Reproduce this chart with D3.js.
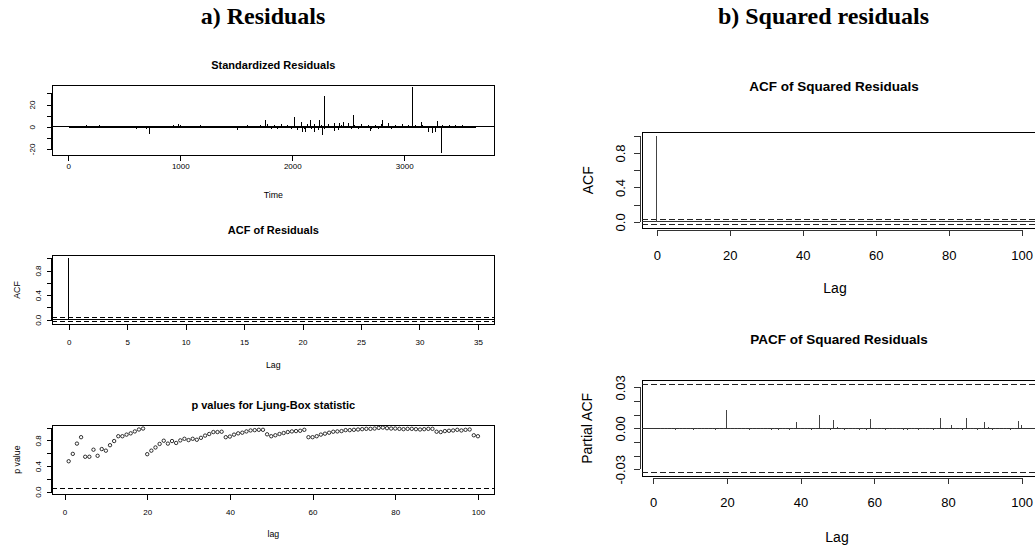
<!DOCTYPE html>
<html><head><meta charset="utf-8">
<script src="https://cdn.jsdelivr.net/npm/d3@7"></script>
<style>
body{margin:0;background:#fff;}
svg{display:block;}
svg line, svg rect{shape-rendering:crispEdges;}
</style></head><body>
<svg id="chart" width="1035" height="547"></svg>
<script>
// ---------------- DATA ----------------
// Standardized residuals: small-amplitude background, sampled every 30 time steps from t=10
const residBaseStart = 10, residBaseStep = 30;
const residBase = [
 -0.8, 0.6, -1.2, 0.9, -0.5, 1.1, -1.4, 0.7, -0.9, 1.2,
 -0.6, 0.8, -1.1, 0.5, -1.3, 0.9, -0.7, 1.0, -1.5, 0.6,
 -1.8, 0.8, -1.0, -2.0, 0.7, -0.9, 0.5, 0.9, -0.6, 1.0,
 -0.8, 1.4, -0.9, 1.2, -0.7, 0.6, -1.0, 0.8, -1.2, 1.1,
 -0.6, 0.9, -1.0, 0.7, -0.8, 0.5, -1.3, 0.6, -0.7, 1.0,
 -0.9, 0.8, -0.5, 1.1, -0.8, 0.6, -0.9,
 1.5, -1.2, 2.0, -2.2, 1.3, -1.8, 2.5, -1.5, 1.8, -2.0,
 2.6, -3.0, 1.6, -2.5, 2.2, -1.8, 2.8, -3.2, 1.5, -2.0,
 2.4, -1.6, 3.0, -2.8, 1.8, -1.5, 2.0, -2.2, 1.4, -1.8,
 2.6, -1.3, 1.9, -2.4, 1.5, -1.7, 2.1, -1.2, 1.6, -1.9,
 1.4, -1.1, 2.0, -1.6, 1.3, -1.5, 1.8, -1.2, 1.5, -1.4,
 -4.5, -6.0, -5.0, -1.2, 1.8, -1.0, 1.3, -1.5, 1.1, -0.9,
 1.2, -1.0, 0.8, -0.7, 0.9
];
// Standardized residuals: the visible large spikes
const residSpikeTime  = [727, 982, 1509, 1762, 2024, 2078, 2092, 2120, 2161, 2195, 2241, 2268, 2286, 2381, 2426, 2455, 2506, 2548, 2696, 2807, 2860, 3071, 3150, 3298, 3334];
const residSpikeValue = [-6.8, 2.0, -3.3, 6.0, 9.0, 4.3, -5.2, -4.6, 5.8, -5.0, 5.8, -7.4, 27.4, -4.0, 3.7, 3.8, 3.7, 10.8, -4.0, 5.8, 3.0, 35.5, 4.0, 5.2, -23.6];

// ACF of residuals, lags 0..35
const acfResLags = d3.range(0, 36);
const acfRes = [1, 0.004, -0.003, 0.002, -0.004, 0.003, -0.002, 0.001, -0.003, 0.002,
 0.004, -0.002, 0.003, -0.005, 0.006, -0.002, 0.002, -0.003, 0.001, 0.004,
 -0.006, 0.002, -0.003, 0.004, 0.002, 0.005, -0.002, 0.003, -0.004, 0.002,
 0.001, 0.004, -0.002, 0.003, 0.002, -0.003];
const acfResClim = 0.033;

// Ljung-Box p values, lags 1..100
const lbLags = d3.range(1, 101);
const lbP = [
 0.475, 0.59, 0.75, 0.85, 0.545, 0.545, 0.655, 0.56, 0.665, 0.64,
 0.725, 0.79, 0.865, 0.865, 0.89, 0.91, 0.94, 0.97, 0.985, 0.585,
 0.64, 0.69, 0.745, 0.795, 0.75, 0.79, 0.76, 0.80, 0.825, 0.805,
 0.825, 0.81, 0.84, 0.875, 0.90, 0.93, 0.93, 0.935, 0.85, 0.86,
 0.89, 0.91, 0.92, 0.94, 0.955, 0.96, 0.965, 0.965, 0.895, 0.865,
 0.88, 0.90, 0.915, 0.93, 0.94, 0.945, 0.95, 0.965, 0.85, 0.85,
 0.865, 0.89, 0.905, 0.92, 0.935, 0.94, 0.945, 0.96, 0.96, 0.965,
 0.97, 0.975, 0.98, 0.98, 0.985, 0.995, 1.0, 0.99, 0.985, 0.985,
 0.98, 0.975, 0.98, 0.98, 0.975, 0.97, 0.975, 0.98, 0.98, 0.935,
 0.93, 0.945, 0.95, 0.955, 0.965, 0.955, 0.965, 0.97, 0.88, 0.865
];
const lbLevel = 0.05;

// ACF of squared residuals, lags 0..100
const acfSqLags = d3.range(0, 101);
const acfSq = [1,
 0.0002,-0.0005,-0.0004,-0.0006,-0.0003,-0.0006,-0.0005,-0.0004,-0.0005,-0.0006,
 -0.0006,-0.0004,-0.0005,-0.0004,-0.0006,-0.0005,-0.0006,-0.0005,-0.0004,0.0136,
 -0.0002,-0.0005,-0.0004,-0.0006,-0.0005,-0.0006,-0.0005,-0.0004,-0.0006,-0.0005,
 -0.0005,-0.0006,-0.0004,-0.0009,-0.0005,-0.0004,-0.0006,-0.0005,0.0050,-0.0002,
 -0.0005,-0.0004,-0.0006,-0.0003,0.0097,-0.0005,-0.0004,-0.0006,0.0060,0.0012,
 -0.0004,-0.0006,-0.0005,-0.0004,-0.0005,-0.0006,-0.0004,-0.0007,0.0068,-0.0003,
 -0.0005,-0.0004,-0.0006,-0.0002,-0.0003,-0.0005,-0.0004,-0.0006,-0.0007,-0.0005,
 -0.0004,-0.0006,-0.0005,-0.0004,-0.0005,-0.0006,-0.0004,0.0075,-0.0005,-0.0004,
 0.0029,-0.0005,-0.0003,-0.0007,0.0076,-0.0005,-0.0004,-0.0006,-0.0005,0.0051,
 0.0010,-0.0006,-0.0004,-0.0005,-0.0002,-0.0004,-0.0006,-0.0005,0.0057,0.0024
];
// PACF of squared residuals, lags 1..100
const pacfSqLags = d3.range(1, 101);
const pacfSq = [
 0.0000,-0.0008,-0.0007,-0.0008,-0.0006,-0.0009,-0.0007,-0.0008,-0.0007,-0.0008,
 -0.0009,-0.0007,-0.0008,-0.0006,-0.0008,-0.0007,-0.0009,-0.0008,-0.0007,0.0137,
 -0.0004,-0.0008,-0.0007,-0.0008,-0.0007,-0.0009,-0.0008,-0.0007,-0.0008,-0.0007,
 -0.0008,-0.0009,-0.0007,-0.0012,-0.0008,-0.0007,-0.0009,-0.0008,0.0049,-0.0002,
 -0.0008,-0.0007,-0.0009,-0.0003,0.0095,-0.0008,-0.0007,-0.0009,0.0059,0.0010,
 -0.0007,-0.0009,-0.0008,-0.0007,-0.0008,-0.0009,-0.0007,-0.0010,0.0066,-0.0005,
 -0.0008,-0.0007,-0.0009,-0.0002,-0.0003,-0.0008,-0.0007,-0.0009,-0.0010,-0.0008,
 -0.0007,-0.0009,-0.0008,-0.0007,-0.0008,-0.0009,-0.0007,0.0073,-0.0008,-0.0007,
 0.0027,-0.0008,-0.0005,-0.0010,0.0073,-0.0008,-0.0007,-0.0009,-0.0008,0.0049,
 0.0008,-0.0009,-0.0007,-0.0008,-0.0003,-0.0007,-0.0009,-0.0008,0.0054,0.0022
];
const sqClim = 0.0323;

// Tick values and labels
const residXTicks = [0, 1000, 2000, 3000];
const residYTicks = [-20, -10, 0, 10, 20, 30];
const residYLabeled = [-20, 0, 20];
const acfResXTicks = [0, 5, 10, 15, 20, 25, 30, 35];
const unitYTicks = [0, 0.2, 0.4, 0.6, 0.8, 1.0];
const unitYLabeled = [0, 0.4, 0.8];
const lagXTicks = [0, 20, 40, 60, 80, 100];
const pacfYTicks = [-0.03, -0.02, -0.01, 0, 0.01, 0.02, 0.03];
const pacfYLabeled = [-0.03, 0, 0.03];

const mainTitles = ["a) Residuals", "b) Squared residuals"];

// ---------------- DRAWING ----------------
const SANS = "'Liberation Sans', Arial, Helvetica, sans-serif";
const SERIF = "'Liberation Serif', 'Times New Roman', serif";
const svg = d3.select("#chart");
svg.append("rect").attr("width", 1035).attr("height", 547).attr("fill", "#fff");

const dash = (f) => f.replace("\u2212", "-");

function panel(o) {
  const x = d3.scaleLinear().domain(o.xDomain).range([o.L, o.R]);
  const y = d3.scaleLinear().domain(o.yDomain).range([o.B, o.T]);
  const g = svg.append("g");

  // x axis
  const axY = o.B + o.off;
  const ax = g.append("g").attr("transform", `translate(0,${axY})`)
    .call(d3.axisBottom(x).tickValues(o.xTicks).tickSize(o.tick)
      .tickPadding(o.xLabC - 0.355 * o.tf - axY - o.tick)
      .tickFormat(d => dash(o.xFmt(d))));
  ax.select(".domain").remove();
  ax.append("line").attr("x1", x(o.xTicks[0])).attr("x2", x(o.xTicks[o.xTicks.length - 1]))
    .attr("y1", 0).attr("y2", 0).attr("stroke", o.axisColor);
  ax.attr("font-family", SANS).attr("font-size", o.tf);
  ax.selectAll(".tick line").attr("stroke", o.axisColor);
  ax.selectAll("text").attr("fill", "#000");

  // y axis
  const axX = o.L - o.off;
  const ay = g.append("g").attr("transform", `translate(${axX},0)`)
    .call(d3.axisLeft(y).tickValues(o.yTicks).tickSize(o.tick)
      .tickFormat(d => o.yLabeled.includes(d) ? dash(o.yFmt(d)) : ""));
  ay.select(".domain").remove();
  ay.append("line").attr("x1", 0).attr("x2", 0)
    .attr("y1", y(o.yTicks[0])).attr("y2", y(o.yTicks[o.yTicks.length - 1])).attr("stroke", o.axisColor);
  ay.attr("font-family", SANS).attr("font-size", o.tf);
  ay.selectAll(".tick line").attr("stroke", o.axisColor);
  ay.selectAll(".tick text")
    .attr("x", null).attr("dy", "0.355em").attr("text-anchor", "middle").attr("fill", "#000")
    .attr("transform", `translate(${o.yLabX - axX},0) rotate(-90)`);

  // title
  g.append("text").attr("x", o.titleX).attr("y", o.titleY).attr("text-anchor", "middle")
    .attr("font-family", SANS).attr("font-weight", "bold").attr("font-size", o.titleF)
    .attr("fill", "#000").text(o.title);
  // x label
  if (o.xLab) g.append("text").attr("x", (o.xLabX || (o.L + o.R) / 2)).attr("y", o.xLabY)
    .attr("text-anchor", "middle").attr("font-family", SANS).attr("font-size", o.lf)
    .attr("fill", "#000").text(o.xLab);
  // y label
  if (o.yLab) g.append("text")
    .attr("transform", `translate(${o.yLabTX},${(o.T + o.B) / 2}) rotate(-90)`)
    .attr("dy", "0.355em").attr("text-anchor", "middle").attr("font-family", SANS)
    .attr("font-size", o.lf).attr("fill", "#000").text(o.yLab);

  // box
  g.append("rect").attr("x", o.L).attr("y", o.T).attr("width", o.R - o.L).attr("height", o.B - o.T)
    .attr("fill", "none").attr("stroke", "#000").attr("stroke-width", 1);
  return { x, y, g };
}

// ---- main titles
svg.selectAll("text.main").data(mainTitles).join("text").attr("class", "main")
  .attr("x", (d, i) => [263, 823.5][i]).attr("y", 24).attr("text-anchor", "middle")
  .attr("font-family", SERIF).attr("font-weight", "bold").attr("font-size", 24)
  .attr("fill", "#000").text(d => d);

// ---- A1: Standardized residuals
{
  const p = panel({
    L: 52.3, R: 494.3, T: 85.7, B: 155.3, off: 0.5, tick: 5, axisColor: "#000",
    xDomain: [-143, 3804], yDomain: [-25.8, 37.0],
    xTicks: residXTicks, xFmt: d3.format("d"), xLabC: 166,
    yTicks: residYTicks, yLabeled: residYLabeled, yFmt: d3.format("d"), yLabX: 31.7,
    tf: 8, lf: 8.8, titleF: 11,
    title: "Standardized Residuals", titleX: 273.3, titleY: 69,
    xLab: "Time", xLabY: 198
  });
  const baseTimes = residBase.map((v, i) => residBaseStart + i * residBaseStep);
  const pts = residBase.map((v, i) => [baseTimes[i], v])
    .concat(residSpikeTime.map((t, i) => [t, residSpikeValue[i]]));
  p.g.append("line").attr("x1", 52.3).attr("x2", 494.3).attr("y1", p.y(0)).attr("y2", p.y(0))
    .attr("stroke", "#000").attr("stroke-width", 1);
  p.g.append("line").attr("x1", p.x(residBaseStart)).attr("x2", p.x(residBaseStart + (residBase.length - 1) * residBaseStep))
    .attr("y1", p.y(0) + 1).attr("y2", p.y(0) + 1).attr("stroke", "#000").attr("stroke-width", 1);
  p.g.selectAll("line.sp").data(pts).join("line").attr("class", "sp")
    .attr("x1", d => p.x(d[0])).attr("x2", d => p.x(d[0]))
    .attr("y1", p.y(0)).attr("y2", d => p.y(d[1]))
    .attr("stroke", "#000").attr("stroke-width", 1);
}

// ---- A2: ACF of residuals
{
  const p = panel({
    L: 52.3, R: 494.3, T: 255.7, B: 324.3, off: 0.5, tick: 5, axisColor: "#000",
    xDomain: [-1.4, 36.4], yDomain: [-0.074, 1.041],
    xTicks: acfResXTicks, xFmt: d3.format("d"), xLabC: 341.7,
    yTicks: unitYTicks, yLabeled: unitYLabeled, yFmt: d3.format(".1f"), yLabX: 38.3,
    tf: 8, lf: 8.8, titleF: 11,
    title: "ACF of Residuals", titleX: 273.3, titleY: 234,
    xLab: "Lag", xLabY: 368, yLab: "ACF", yLabTX: 16.7
  });
  p.g.append("line").attr("x1", 52.3).attr("x2", 494.3).attr("y1", p.y(0)).attr("y2", p.y(0)).attr("stroke", "#000");
  [acfResClim, -acfResClim].forEach(c => p.g.append("line").attr("x1", 52.3).attr("x2", 494.3)
    .attr("y1", p.y(c)).attr("y2", p.y(c)).attr("stroke", "#000").attr("stroke-dasharray", "5,3"));
  p.g.selectAll("line.sp").data(acfResLags).join("line").attr("class", "sp")
    .attr("x1", d => p.x(d)).attr("x2", d => p.x(d))
    .attr("y1", p.y(0)).attr("y2", (d, i) => p.y(acfRes[i])).attr("stroke", "#000");
}

// ---- A3: Ljung-Box p values
{
  const p = panel({
    L: 52.3, R: 494.3, T: 425, B: 494.3, off: 0.5, tick: 5, axisColor: "#000",
    xDomain: [-2.96, 103.96], yDomain: [-0.04, 1.04],
    xTicks: lagXTicks, xFmt: d3.format("d"), xLabC: 511.7,
    yTicks: unitYTicks, yLabeled: unitYLabeled, yFmt: d3.format(".1f"), yLabX: 38.3,
    tf: 8, lf: 8.8, titleF: 11,
    title: "p values for Ljung-Box statistic", titleX: 273.3, titleY: 409,
    xLab: "lag", xLabY: 537, yLab: "p value", yLabTX: 16.7
  });
  p.g.append("line").attr("x1", 52.3).attr("x2", 494.3).attr("y1", p.y(lbLevel)).attr("y2", p.y(lbLevel))
    .attr("stroke", "#000").attr("stroke-dasharray", "5,3");
  p.g.selectAll("circle").data(lbLags).join("circle")
    .attr("cx", d => p.x(d)).attr("cy", (d, i) => p.y(lbP[i])).attr("r", 1.7)
    .attr("fill", "none").attr("stroke", "#000").attr("stroke-width", 0.8);
}

// ---- B1: ACF of squared residuals
{
  const p = panel({
    L: 642.3, R: 1036.3, T: 132.3, B: 228.3, off: 2, tick: 6, axisColor: "#333",
    xDomain: [-4, 104], yDomain: [-0.074, 1.041],
    xTicks: lagXTicks, xFmt: d3.format("d"), xLabC: 255,
    yTicks: unitYTicks, yLabeled: unitYLabeled, yFmt: d3.format(".1f"), yLabX: 620,
    tf: 13, lf: 14, titleF: 13.5,
    title: "ACF of Squared Residuals", titleX: 834, titleY: 91,
    xLab: "Lag", xLabX: 835, xLabY: 293, yLab: "ACF", yLabTX: 588.3
  });
  p.g.append("line").attr("x1", 642.3).attr("x2", 1036.3).attr("y1", p.y(0)).attr("y2", p.y(0)).attr("stroke", "#333");
  [sqClim, -sqClim].forEach(c => p.g.append("line").attr("x1", 642.3).attr("x2", 1036.3)
    .attr("y1", p.y(c)).attr("y2", p.y(c)).attr("stroke", "#222").attr("stroke-dasharray", "6,3"));
  p.g.selectAll("line.sp").data(acfSqLags).join("line").attr("class", "sp")
    .attr("x1", d => p.x(d)).attr("x2", d => p.x(d))
    .attr("y1", p.y(0)).attr("y2", (d, i) => p.y(acfSq[i])).attr("stroke", "#444");
}

// ---- B2: PACF of squared residuals
{
  const p = panel({
    L: 642.3, R: 1036.3, T: 380.7, B: 476, off: 2, tick: 6, axisColor: "#333",
    xDomain: [-2.96, 103.96], yDomain: [-0.0349, 0.0349],
    xTicks: lagXTicks, xFmt: d3.format("d"), xLabC: 502.7,
    yTicks: pacfYTicks, yLabeled: pacfYLabeled, yFmt: d3.format(".2f"), yLabX: 620,
    tf: 13, lf: 14, titleF: 13.5,
    title: "PACF of Squared Residuals", titleX: 839, titleY: 343.5,
    xLab: "Lag", xLabX: 837, xLabY: 541.5, yLab: "Partial ACF", yLabTX: 586.7
  });
  p.g.append("line").attr("x1", 642.3).attr("x2", 1036.3).attr("y1", p.y(0)).attr("y2", p.y(0)).attr("stroke", "#333");
  [sqClim, -sqClim].forEach(c => p.g.append("line").attr("x1", 642.3).attr("x2", 1036.3)
    .attr("y1", p.y(c)).attr("y2", p.y(c)).attr("stroke", "#222").attr("stroke-dasharray", "6,3"));
  p.g.selectAll("line.sp").data(pacfSqLags).join("line").attr("class", "sp")
    .attr("x1", d => p.x(d)).attr("x2", d => p.x(d))
    .attr("y1", p.y(0)).attr("y2", (d, i) => p.y(pacfSq[i])).attr("stroke", "#444");
}
</script>
</body></html>
